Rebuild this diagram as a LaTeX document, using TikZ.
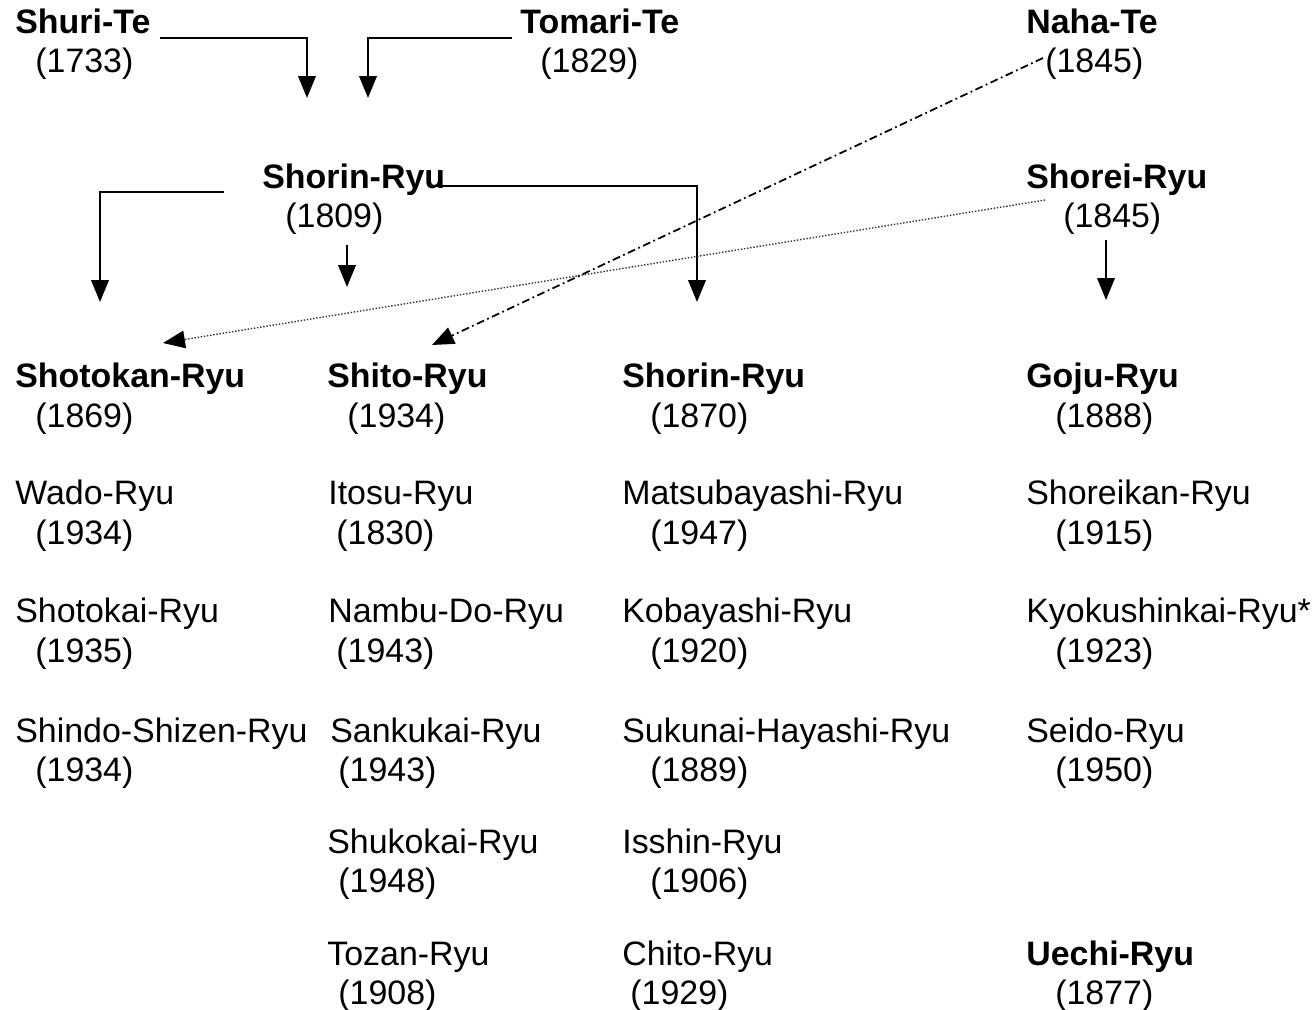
\documentclass[tikz,border=0pt]{standalone}
\usepackage{fontspec}
\setmainfont{Liberation Sans}
\usetikzlibrary{arrows.meta}
\usetikzlibrary{calc}

\tikzset{
  school/.style={anchor=base west, inner sep=0pt, align=left, font=\fontsize{19.3}{22.2}\selectfont},
  link/.style={-{Triangle[length=12.5pt,width=10pt]}, line width=1.1pt},
  nahalink/.style={link, line width=1pt, dash pattern=on 4.5pt off 2pt on 1pt off 2pt},
  shoreilink/.style={-{Triangle[length=12.5pt,width=10pt,black]}, line width=0.8pt, black!80, densely dotted},
}

\begin{document}
\begin{tikzpicture}[x=0.02cm, y=-0.02cm]
\useasboundingbox (0,0) rectangle (1315,1010);

% roots (node base = baseline of the year line)
\node[school] (shuri) at (15,73) {\textbf{Shuri-Te}\\\hspace*{11.4pt}(1733)};
\node[school] (tomari) at (520,73) {\textbf{Tomari-Te}\\\hspace*{11.4pt}(1829)};
\node[school] (naha) at (1026,73) {\textbf{Naha-Te}\\\hspace*{10.8pt}(1845)};

\node[school] (shorin) at (262,228) {\textbf{Shorin-Ryu}\\\hspace*{13.1pt}(1809)};
\node[school] (shorei) at (1026,228) {\textbf{Shorei-Ryu}\\\hspace*{21pt}(1845)};

% main styles
\node[school] (shotokan) at (15,427) {\textbf{Shotokan-Ryu}\\\hspace*{11.4pt}(1869)};
\node[school] (shito) at (327,427) {\textbf{Shito-Ryu}\\\hspace*{11.4pt}(1934)};
\node[school] (shorin2) at (622,427) {\textbf{Shorin-Ryu}\\\hspace*{15.9pt}(1870)};
\node[school] (goju) at (1026,427) {\textbf{Goju-Ryu}\\\hspace*{16.5pt}(1888)};

% offshoots
\node[school] (wado) at (15,544) {Wado-Ryu\\\hspace*{11.4pt}(1934)};
\node[school] (shotokai) at (15,662) {Shotokai-Ryu\\\hspace*{11.4pt}(1935)};
\node[school] (shindo) at (15,781) {Shindo-Shizen-Ryu\\\hspace*{11.4pt}(1934)};

\node[school] (itosu) at (328,544) {Itosu-Ryu\\\hspace*{4.6pt}(1830)};
\node[school] (nambu) at (328,662) {Nambu-Do-Ryu\\\hspace*{4.6pt}(1943)};
\node[school] (sankukai) at (330,781) {Sankukai-Ryu\\\hspace*{4.6pt}(1943)};
\node[school] (shukokai) at (327,892) {Shukokai-Ryu\\\hspace*{6.3pt}(1948)};
\node[school] (tozan) at (327,1004) {Tozan-Ryu\\\hspace*{6.3pt}(1908)};

\node[school] (matsu) at (622,544) {Matsubayashi-Ryu\\\hspace*{15.9pt}(1947)};
\node[school] (kobayashi) at (622,662) {Kobayashi-Ryu\\\hspace*{15.9pt}(1920)};
\node[school] (sukunai) at (622,781) {Sukunai-Hayashi-Ryu\\\hspace*{15.9pt}(1889)};
\node[school] (isshin) at (622,892) {Isshin-Ryu\\\hspace*{15.9pt}(1906)};
\node[school] (chito) at (622,1004) {Chito-Ryu\\\hspace*{4.6pt}(1929)};

\node[school] (shoreikan) at (1026,544) {Shoreikan-Ryu\\\hspace*{16.5pt}(1915)};
\node[school] (kyoku) at (1026,662) {Kyokushinkai-Ryu*\\\hspace*{16.5pt}(1923)};
\node[school] (seido) at (1026,781) {Seido-Ryu\\\hspace*{16.5pt}(1950)};
\node[school] (uechi) at (1026,1004) {\textbf{Uechi-Ryu}\\\hspace*{16.5pt}(1877)};

% connectors
\coordinate (shuri-out) at (160,38);
\coordinate (shuri-in) at (307,98);
\draw[link] (shuri-out) -| (shuri-in);
\coordinate (tomari-out) at (512,38);
\coordinate (tomari-in) at (368,98);
\draw[link] (tomari-out) -| (tomari-in);

\coordinate (shorin-left) at (224,192);
\coordinate (shotokan-in) at (100,302);
\draw[link] (shorin-left) -| (shotokan-in);
\coordinate (shorin-mid) at (347,245);
\coordinate (shito-in) at (347,287);
\draw[link] (shorin-mid) -- (shito-in);
\coordinate (shorin-right) at (430,186);
\coordinate (shorin2-in) at (697,302);
\draw[link] (shorin-right) -| (shorin2-in);

\coordinate (shorei-out) at (1106,240);
\coordinate (goju-in) at (1106,300);
\draw[link] (shorei-out) -- (goju-in);

\coordinate (naha-out) at (1043,58);
\coordinate (naha-shito) at (432,345);
\draw[nahalink] (naha-out) -- (naha-shito);
\coordinate (shorei-side) at (1045,200);
\coordinate (shorei-shotokan) at (163,343);
\draw[shoreilink] (shorei-side) -- (shorei-shotokan);

\end{tikzpicture}
\end{document}
